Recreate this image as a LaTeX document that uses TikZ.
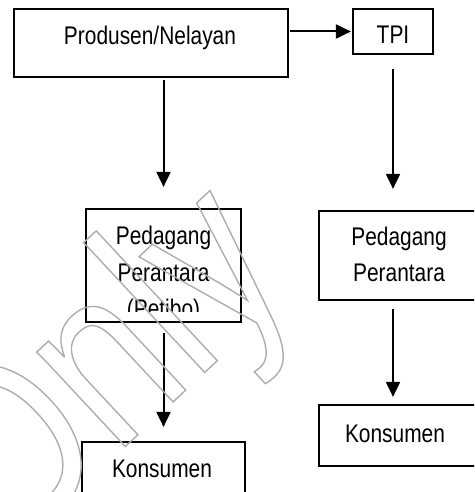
\documentclass[tikz,border=0pt]{standalone}
\usepackage{fontspec}
\setmainfont{Liberation Sans}[FakeStretch=0.82]
\newfontfamily\wmfont{Liberation Sans}[FakeStretch=0.8]
\usetikzlibrary{arrows.meta,calc}
\begin{document}
\begin{tikzpicture}[x=1pt,y=-1pt,
  box/.style={draw=black, line width=2.2pt, inner sep=0pt},
  txt/.style={inner sep=0pt, font=\fontsize{25.5}{36.5}\selectfont, align=center},
  arr/.style={line width=2pt, -{Triangle[length=15pt,width=14pt]}}]
\useasboundingbox (0,0) rectangle (474,492);
\clip (0,0) rectangle (474,492);
% boxes
\node[box, minimum width=274pt, minimum height=68pt] (p) at (151,43) {};
\node[box, minimum width=80pt, minimum height=45pt] (t) at (393,31.5) {};
\node[box, minimum width=155pt, minimum height=113pt] (pl) at (163.5,265.5) {};
\node[box, minimum width=160pt, minimum height=89pt] (pr) at (399,255.5) {};
\node[box, minimum width=163pt, minimum height=62pt] (kl) at (163.5,473) {};
\node[box, minimum width=160pt, minimum height=61pt] (kr) at (399,435.5) {};
% texts
\node[txt, anchor=base] (pt) at (150,44.3) {Produsen/Nelayan};
\node[txt, anchor=base] (tt) at (393,44) {TPI};
\begin{scope}
\clip (80,200) rectangle (250,311);
\node[txt, anchor=north] (plt) at (163.5,226) {Pedagang\\Perantara\\(Petibo)};
\end{scope}
\node[txt, anchor=north] (prt) at (399,226.5) {Pedagang\\Perantara};
\node[txt, anchor=base] (klt) at (162,477) {Konsumen};
\node[txt, anchor=base] (krt) at (395,442) {Konsumen};
% connectors
\draw[arr, shorten <=1pt, shorten >=1pt] (p.east |- t.center) -- (t.west);
\draw[arr, shorten <=2pt, shorten >=21pt] (pl.north |- p.south) -- (pl.north);
\draw[arr, shorten <=14pt, shorten >=21pt] (t.south) -- (t.south |- pr.north);
\draw[arr, shorten <=10pt, shorten >=14pt] (pl.south) -- (pl.south |- kl.north);
\draw[arr, shorten <=8pt, shorten >=7pt] (t.south |- pr.south) -- (t.south |- kr.north);
% watermark
\node[inner sep=0pt, rotate=43, text=black!32, font=\wmfont\fontsize{245}{245}\selectfont] (wm) at (108,376)
  {\special{pdf:literal 1 Tr 1.4 w}Only\special{pdf:literal 0 Tr}};
\end{tikzpicture}
\end{document}
